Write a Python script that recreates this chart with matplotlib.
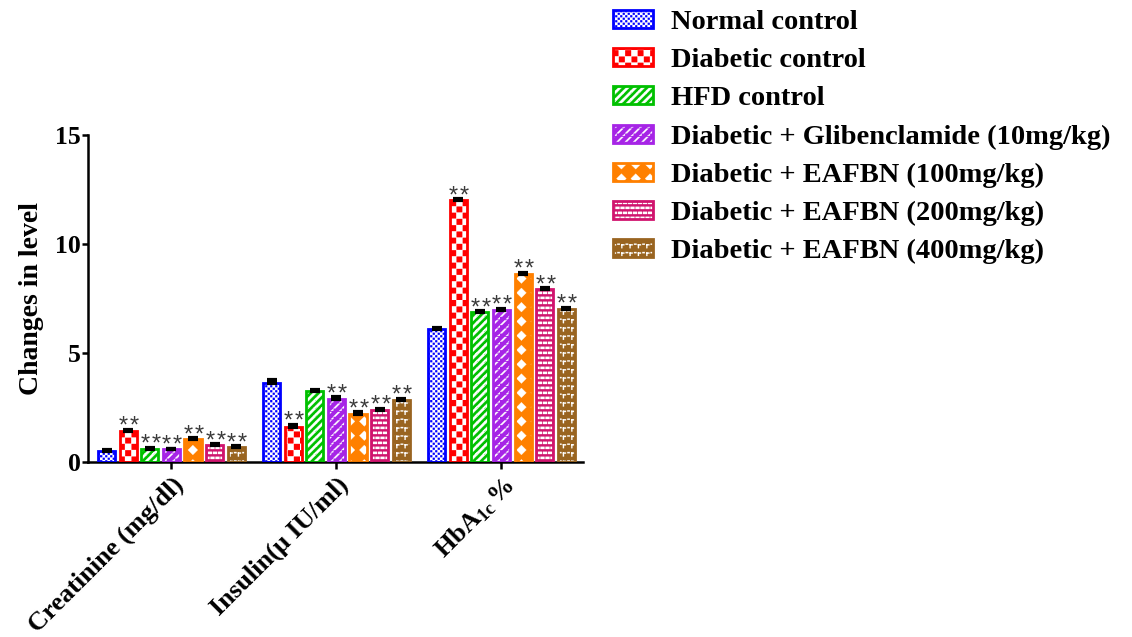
import warnings
import numpy as np
import matplotlib
matplotlib.use("Agg")
import matplotlib.pyplot as plt
import matplotlib.hatch as mhatch
from matplotlib.path import Path
from matplotlib.patches import Patch
from matplotlib.legend_handler import HandlerTuple

warnings.filterwarnings("ignore", message=".*hatch must consist.*")

# ---------------------------------------------------------------- data
parameters = ["Creatinine (mg/dl)", "Insulin(\u03bc IU/ml)", "HbA$_{\\mathrm{1c}}\\,$%"]
groups = [
    "Normal control",
    "Diabetic control",
    "HFD control",
    "Diabetic + Glibenclamide (10mg/kg)",
    "Diabetic + EAFBN (100mg/kg)",
    "Diabetic + EAFBN (200mg/kg)",
    "Diabetic + EAFBN (400mg/kg)",
]

normal_control = [0.52, 3.64, 6.10]
diabetic_control = [1.42, 1.62, 12.00]
hfd_control = [0.62, 3.24, 6.86]
glibenclamide_10 = [0.58, 2.90, 6.96]
eafbn_100 = [1.04, 2.22, 8.64]
eafbn_200 = [0.77, 2.39, 7.92]
eafbn_400 = [0.68, 2.83, 7.03]

normal_sem = [0.04, 0.10, 0.05]
diabetic_sem = [0.04, 0.10, 0.05]
hfd_sem = [0.04, 0.05, 0.05]
glibenclamide_sem = [0.04, 0.06, 0.05]
eafbn_100_sem = [0.04, 0.06, 0.05]
eafbn_200_sem = [0.04, 0.05, 0.05]
eafbn_400_sem = [0.04, 0.06, 0.05]

normal_sig = ["", "", ""]
diabetic_sig = ["**", "**", "**"]
hfd_sig = ["**", "", "**"]
glibenclamide_sig = ["**", "**", "**"]
eafbn_100_sig = ["**", "**", "**"]
eafbn_200_sig = ["**", "**", "**"]
eafbn_400_sig = ["**", "**", "**"]

values = [normal_control, diabetic_control, hfd_control, glibenclamide_10,
          eafbn_100, eafbn_200, eafbn_400]
sems = [normal_sem, diabetic_sem, hfd_sem, glibenclamide_sem,
        eafbn_100_sem, eafbn_200_sem, eafbn_400_sem]
sigs = [normal_sig, diabetic_sig, hfd_sig, glibenclamide_sig,
        eafbn_100_sig, eafbn_200_sig, eafbn_400_sig]

colors = ["#0000FF", "#FF0000", "#00C000", "#A624E6", "#FF8000", "#D0146E", "#996420"]


# ---------------------------------------------------------------- fill patterns
class TileHatch(mhatch.HatchPatternBase):
    """Filled white shapes repeated on a square grid inside the hatch unit."""
    tiles = {}

    def __init__(self, hatch, density):
        self.chunks = []
        for ch, (polys, reps) in self.tiles.items():
            if hatch and ch in hatch:
                verts, codes = [], []
                for i in range(reps):
                    for j in range(reps):
                        for poly in polys:
                            p = (np.asarray(poly, float) + [i, j]) / reps
                            verts.extend(p)
                            verts.append(p[0])
                            codes.extend([Path.MOVETO] + [Path.LINETO] * (len(p) - 1)
                                         + [Path.CLOSEPOLY])
                self.chunks.append((np.array(verts), np.array(codes, dtype=Path.code_type)))
        self.num_vertices = sum(len(c) for _, c in self.chunks)

    def set_vertices_and_codes(self, vertices, codes):
        if self.chunks:
            vertices[:] = np.concatenate([v for v, _ in self.chunks])
            codes[:] = np.concatenate([c for _, c in self.chunks])


def rect(x0, y0, x1, y1):
    return [(x0, y0), (x1, y0), (x1, y1), (x0, y1)]


def diag_band(a):
    return [
        [(0, 0), (a, 0), (1, 1 - a), (1, 1), (1 - a, 1), (0, a)],
        [(1 - a, 0), (1, 0), (1, a)],
        [(0, 1 - a), (0, 1), (a, 1)],
    ]


checker = [rect(0, 0, 0.5, 0.5), rect(0.5, 0.5, 1, 1)]
TileHatch.tiles = {
    "C": (checker, 20),                                   # fine checkerboard
    "K": (checker, 8),                                    # coarse checkerboard
    "D": (diag_band(0.22), 13),                           # diagonal stripes
    "G": ([[(0.0, 0.0), (0.24, 0.0), (0.80, 0.56), (0.56, 0.56)],
           [(0.70, 0.70), (0.94, 0.70), (1.0, 0.76), (1.0, 0.94)]], 12),  # broken diagonals
    "T": ([[(0.5, 0.16), (0.84, 0.5), (0.5, 0.84), (0.16, 0.5)]], 7),     # diamonds
    "B": ([rect(0.05, 0.10, 0.45, 0.32), rect(0.55, 0.10, 0.95, 0.32),
           rect(0.30, 0.60, 0.70, 0.82), rect(0.80, 0.60, 1.0, 0.82),
           rect(0.0, 0.60, 0.20, 0.82)], 10),             # bricks
    "L": ([rect(0.08, 0.62, 0.38, 0.76), rect(0.55, 0.56, 0.92, 0.70),
           rect(0.55, 0.22, 0.68, 0.70)], 12),            # small dashes and hooks
}
mhatch._hatch_types.append(TileHatch)

hatches = ["C", "K", "D", "G", "T", "B", "L"]

# ---------------------------------------------------------------- style
plt.rcParams["font.family"] = ["Liberation Serif", "DejaVu Serif"]
plt.rcParams["font.weight"] = "bold"
plt.rcParams["mathtext.fontset"] = "custom"
plt.rcParams["mathtext.rm"] = "Liberation Serif:bold"
plt.rcParams["mathtext.it"] = "Liberation Serif:bold:italic"
plt.rcParams["mathtext.bf"] = "Liberation Serif:bold"
plt.rcParams["hatch.linewidth"] = 0.2

fig = plt.figure(figsize=(11.32, 6.37), dpi=100)
ax = fig.add_axes([0.0777, 0.2747, 0.4373, 0.5133])

xpos = np.arange(len(parameters))
pitch = 0.131
width = 0.104
star_gap = 4.0  # points between the centres of neighbouring asterisks

for k, (vals, err, sig, color, hatch) in enumerate(zip(values, sems, sigs, colors, hatches)):
    x = xpos + (k - 3) * pitch
    ax.bar(x, vals, width, color=color, edgecolor="white", linewidth=0,
           hatch=hatch, zorder=2)
    ax.bar(x, vals, width, fill=False, edgecolor=color, linewidth=2.0, zorder=3)
    ax.errorbar(x, vals, yerr=[np.zeros(len(vals)), err], fmt="none",
                ecolor="black", elinewidth=1.5, capsize=3.5, capthick=3, zorder=4)
    for xi, v, e, s in zip(x, vals, err, sig):
        n = len(s)
        for j, ch in enumerate(s):
            dx = (j - (n - 1) / 2) * star_gap * 2
            ax.annotate(ch, (xi, v + e), xytext=(dx + 0.5, -2.0),
                        textcoords="offset points", ha="center", va="baseline",
                        fontsize=17, color="#3a3a3a", family="Liberation Sans",
                        fontweight="normal", zorder=5)

ax.set_xlim(-0.506, 2.494)
ax.set_ylim(0, 15)
ax.set_yticks([0, 5, 10, 15])
ax.set_xticks(xpos)
ax.set_xticklabels(parameters, rotation=45, ha="right", va="top",
                   rotation_mode="anchor", fontsize=19, fontweight="bold")
ax.set_ylabel("Changes in level", fontsize=20, fontweight="bold", labelpad=8)

for side in ("top", "right"):
    ax.spines[side].set_visible(False)
for side in ("left", "bottom"):
    ax.spines[side].set_linewidth(1.8)
ax.tick_params(axis="y", length=4, width=1.8, pad=1, labelsize=18.5)
ax.tick_params(axis="x", length=5, width=1.8, pad=3)
for lab in ax.get_yticklabels():
    lab.set_fontweight("bold")

handles = [
    (Patch(facecolor=c, edgecolor="white", linewidth=0, hatch=h),
     Patch(facecolor="none", edgecolor=c, linewidth=2.0))
    for c, h in zip(colors, hatches)
]
fig.legend(handles, groups, loc="upper left", bbox_to_anchor=(613 / 1132, 1 - 10 / 637),
           frameon=False, borderpad=0, borderaxespad=0,
           handlelength=1.42, handleheight=0.6, handletextpad=0.62, labelspacing=0.46,
           handler_map={tuple: HandlerTuple(ndivide=1, pad=0)},
           prop={"weight": "bold", "size": 20.5})

fig.savefig("out.png", dpi=100)
